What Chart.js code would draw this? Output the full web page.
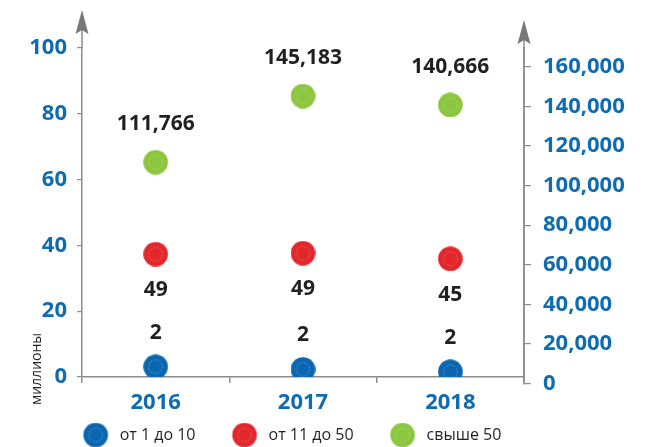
<!DOCTYPE html>
<html>
<head>
<meta charset="utf-8">
<script src="https://cdn.jsdelivr.net/npm/chart.js"></script>
<style>
  html, body { margin: 0; padding: 0; background: #fff; }
  #wrap { width: 657px; height: 447px; }
</style>
</head>
<body>
<div id="wrap"><canvas id="chart" width="657" height="447"></canvas></div>
<script>
// categories and values
const years = ['2016', '2017', '2018'];
const seriesNames = ['от 1 до 10', 'от 11 до 50', 'свыше 50'];
const seriesColors = ['#0a66b0', '#e2262a', '#8cc63f'];

// plotted heights on the left axis (millions) as drawn in the picture
const smallPos = [3.1, 2.3, 1.6];
const mediumPos = [37.3, 37.6, 35.9];
// labels printed next to those points
const smallLabels = ['2', '2', '2'];
const mediumLabels = ['49', '49', '45'];
// large group, plotted on the right axis
const largeValues = [111766, 145183, 140666];

const leftTicks = [0, 20, 40, 60, 80, 100];
const rightTicks = [0, 20000, 40000, 60000, 80000, 100000, 120000, 140000, 160000];

const FONT = '"Open Sans", Lato, sans-serif';
const BLUE_TXT = '#0f6cb0';
const AXIS = '#8c8c8c';

// round marker with faint dashed ring; cx lets the legend copy sit to the right
function makeDot(color, w, cx) {
  const c = document.createElement('canvas');
  c.width = w; c.height = 25;
  const g = c.getContext('2d');
  g.fillStyle = color;
  g.beginPath(); g.arc(cx, 12.5, 12.3, 0, Math.PI * 2); g.fill();
  g.strokeStyle = 'rgba(255,255,255,0.45)';
  g.lineWidth = 0.8;
  g.setLineDash([1.5, 1.5]);
  g.beginPath(); g.arc(cx, 12.5, 6.8, 0, Math.PI * 2); g.stroke();
  return c;
}
const dots = seriesColors.map(c => makeDot(c, 25, 12.5));
const legendDots = seriesColors.map(c => makeDot(c, 55, 39));

// value labels + arrows + vertical unit caption
const extrasPlugin = {
  id: 'extras',
  afterDatasetsDraw(chart) {
    const ctx = chart.ctx;
    const labelSets = [
      { idx: 0, texts: smallLabels, dy: -34 },
      { idx: 1, texts: mediumLabels, dy: 36 },
      { idx: 2, texts: largeValues.map(v => v.toLocaleString('en-US')), dy: -38 }
    ];
    ctx.save();
    ctx.fillStyle = '#231f20';
    ctx.font = 'bold 21px ' + FONT;
    ctx.textAlign = 'center';
    ctx.textBaseline = 'middle';
    labelSets.forEach(s => {
      chart.getDatasetMeta(s.idx).data.forEach((pt, i) => {
        ctx.fillText(s.texts[i], pt.x, pt.y + s.dy);
      });
    });
    ctx.restore();
  },
  afterDraw(chart) {
    const ctx = chart.ctx;
    const a = chart.chartArea;
    const zeroRight = chart.scales.y2.getPixelForValue(0);
    const arrow = (x, tip, base) => {
      ctx.beginPath();
      ctx.moveTo(x, tip);
      ctx.lineTo(x + 6.5, base);
      ctx.lineTo(x, base - 4);
      ctx.lineTo(x - 6.5, base);
      ctx.closePath();
      ctx.fill();
    };
    ctx.save();
    ctx.fillStyle = '#77787b';
    ctx.strokeStyle = AXIS;
    ctx.lineWidth = 1.5;
    ctx.beginPath(); ctx.moveTo(a.left, a.top); ctx.lineTo(a.left, 28); ctx.stroke();
    arrow(a.left, 10, 34);
    ctx.beginPath(); ctx.moveTo(a.right, zeroRight + 1); ctx.lineTo(a.right, 38); ctx.stroke();
    arrow(a.right, 20, 44);
    ctx.translate(37, 369);
    ctx.rotate(-Math.PI / 2);
    ctx.fillStyle = '#231f20';
    ctx.font = '14px ' + FONT;
    ctx.textAlign = 'center';
    ctx.textBaseline = 'middle';
    ctx.fillText('миллионы', 0, 0);
    ctx.restore();
  }
};

new Chart(document.getElementById('chart').getContext('2d'), {
  type: 'line',
  data: {
    labels: years,
    datasets: [
      { label: seriesNames[0], data: smallPos, yAxisID: 'y', showLine: false, pointStyle: dots[0], backgroundColor: seriesColors[0], borderColor: seriesColors[0] },
      { label: seriesNames[1], data: mediumPos, yAxisID: 'y', showLine: false, pointStyle: dots[1], backgroundColor: seriesColors[1], borderColor: seriesColors[1] },
      { label: seriesNames[2], data: largeValues, yAxisID: 'y2', showLine: false, pointStyle: dots[2], backgroundColor: seriesColors[2], borderColor: seriesColors[2] }
    ]
  },
  options: {
    responsive: false,
    animation: false,
    events: [],
    layout: { padding: { top: 48, bottom: -6, left: -99, right: 0 } },
    plugins: {
      tooltip: { enabled: false },
      legend: {
        position: 'bottom',
        labels: {
          usePointStyle: true,
          pointStyleWidth: 55,
          padding: 10,
          color: '#231f20',
          font: { family: FONT, size: 16 },
          generateLabels: chart => Chart.defaults.plugins.legend.labels.generateLabels(chart)
            .map((item, i) => Object.assign(item, { pointStyle: legendDots[i] }))
        }
      }
    },
    scales: {
      x: {
        offset: true,
        afterFit: s => { s.height = 40; },
        border: { color: AXIS, width: 1.5 },
        grid: { offset: true, drawOnChartArea: false, color: AXIS, lineWidth: 1.5, tickLength: 6 },
        ticks: { color: BLUE_TXT, padding: 7, font: { family: FONT, size: 22, weight: 'bold' } }
      },
      y: {
        position: 'left',
        min: 0,
        max: 100 * (377 - 48) / (377 - 47.7),
        afterFit: s => { s.width = 181; },
        afterBuildTicks: s => { s.ticks = leftTicks.map(v => ({ value: v })); },
        border: { color: AXIS, width: 1.5 },
        grid: { drawOnChartArea: false, color: AXIS, lineWidth: 1.2, tickLength: 5 },
        ticks: { color: BLUE_TXT, padding: 10, font: { family: FONT, size: 22, weight: 'bold' } }
      },
      y2: {
        position: 'right',
        // the right axis zero sits a few pixels under the x axis in the picture
        min: 160000 * (383.6 - 377) / 316.9,
        max: 160000 * (383.6 - 48) / 316.9,
        afterFit: s => { s.width = 133; },
        afterBuildTicks: s => { s.ticks = rightTicks.map(v => ({ value: v })); },
        border: { color: AXIS, width: 1.5 },
        grid: { drawOnChartArea: false, color: AXIS, lineWidth: 1.2, tickLength: 7 },
        ticks: {
          color: BLUE_TXT, padding: 12, font: { family: FONT, size: 22, weight: 'bold' },
          callback: v => v.toLocaleString('en-US')
        }
      }
    }
  },
  plugins: [extrasPlugin]
});
</script>
</body>
</html>
